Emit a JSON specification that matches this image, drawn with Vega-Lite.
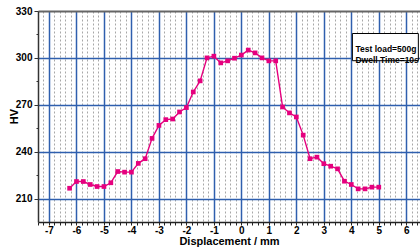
{
  "$schema": "https://vega.github.io/schema/vega-lite/v6.json",
  "autosize": "none",
  "width": 382,
  "height": 211,
  "padding": {"left": 38, "top": 11, "right": 0, "bottom": 25},
  "background": "white",
  "config": {
    "view": {"stroke": null},
    "font": "Liberation Sans",
    "axis": {"labelFont": "Liberation Sans", "titleFont": "Liberation Sans", "labelFontWeight": "bold", "titleFontWeight": "bold", "labelColor": "black", "titleColor": "black", "labelFontSize": 10, "titleFontSize": 11}
  },
  "resolve": {"axis": {"x": "independent", "y": "independent"}},
  "layer": [
    {
      "data": {"values": [
        {"x": -6.25, "hv": 216.6}, {"x": -6.0, "hv": 220.9}, {"x": -5.75, "hv": 220.9}, {"x": -5.5, "hv": 219.0},
        {"x": -5.25, "hv": 217.7}, {"x": -5.0, "hv": 217.7}, {"x": -4.75, "hv": 220.1}, {"x": -4.5, "hv": 227.3},
        {"x": -4.25, "hv": 226.9}, {"x": -4.0, "hv": 226.9}, {"x": -3.75, "hv": 232.5}, {"x": -3.5, "hv": 235.5},
        {"x": -3.25, "hv": 248.5}, {"x": -3.0, "hv": 256.8}, {"x": -2.75, "hv": 260.5}, {"x": -2.5, "hv": 260.9},
        {"x": -2.25, "hv": 265.4}, {"x": -2.0, "hv": 268.2}, {"x": -1.75, "hv": 278.2}, {"x": -1.5, "hv": 285.3},
        {"x": -1.25, "hv": 300.0}, {"x": -1.0, "hv": 301.1}, {"x": -0.75, "hv": 296.8}, {"x": -0.5, "hv": 298.1},
        {"x": -0.25, "hv": 299.8}, {"x": 0, "hv": 301.8}, {"x": 0.25, "hv": 305.0}, {"x": 0.5, "hv": 303.2},
        {"x": 0.75, "hv": 300.0}, {"x": 1.0, "hv": 298.1}, {"x": 1.25, "hv": 298.1}, {"x": 1.5, "hv": 268.6},
        {"x": 1.75, "hv": 264.8}, {"x": 2.0, "hv": 262.2}, {"x": 2.25, "hv": 250.6}, {"x": 2.5, "hv": 235.5},
        {"x": 2.75, "hv": 236.5}, {"x": 3.0, "hv": 232.3}, {"x": 3.25, "hv": 230.7}, {"x": 3.5, "hv": 229.0},
        {"x": 3.75, "hv": 221.1}, {"x": 4.0, "hv": 219.0}, {"x": 4.25, "hv": 216.2}, {"x": 4.5, "hv": 216.2},
        {"x": 4.75, "hv": 217.3}, {"x": 5.0, "hv": 217.3}
      ]},
      "mark": {"type": "line", "color": "#e5007e", "strokeWidth": 1.4,
        "point": {"shape": "square", "size": 22, "filled": true, "color": "#e5007e", "opacity": 1}},
      "encoding": {
        "x": {"field": "x", "type": "quantitative",
          "scale": {"domain": [-7.4, 6.5], "nice": false, "zero": false},
          "axis": {
            "orient": "bottom",
            "title": "Displacement / mm",
            "titleY": 19.5,
            "titleBaseline": "middle",
            "values": [-7.4,-7.2,-7,-6.8,-6.6,-6.4,-6.2,-6,-5.8,-5.6,-5.4,-5.2,-5,-4.8,-4.6,-4.4,-4.2,-4,-3.8,-3.6,-3.4,-3.2,-3,-2.8,-2.6,-2.4,-2.2,-2,-1.8,-1.6,-1.4,-1.2,-1,-0.8,-0.6,-0.4,-0.2,0,0.2,0.4,0.6,0.8,1,1.2,1.4,1.6,1.8,2,2.2,2.4,2.6,2.8,3,3.2,3.4,3.6,3.8,4,4.2,4.4,4.6,4.8,5,5.2,5.4,5.6,5.8,6,6.2,6.4],
            "labelExpr": "abs(datum.value - round(datum.value)) < 0.01 ? '' + round(datum.value) : ''",
            "labelOverlap": false,
            "labelFlush": false,
            "labelPadding": 0,
            "grid": true,
            "gridColor": {"condition": {"test": "abs(datum.value - round(datum.value)) < 0.01", "value": "#2f5fae"}, "value": "#a8a8a8"},
            "gridDash": {"condition": {"test": "abs(datum.value - round(datum.value)) < 0.01", "value": []}, "value": [2, 2]},
            "gridWidth": {"condition": {"test": "abs(datum.value - round(datum.value)) < 0.01", "value": 1.5}, "value": 1},
            "gridOpacity": 1,
            "domainColor": "#222",
            "domainWidth": 1.5,
            "tickColor": "#222",
            "tickSize": 3,
            "tickWidth": 1
          }
        },
        "y": {"field": "hv", "type": "quantitative",
          "scale": {"domain": [195, 330], "nice": false, "zero": false},
          "axis": {
            "orient": "left",
            "title": "HV",
            "titleX": -24,
            "titleY": 105,
            "titleAlign": "center",
            "titleBaseline": "middle",
            "titleAngle": -90,
            "values": [210, 225, 240, 255, 270, 285, 300, 315, 330],
            "labelExpr": "datum.value % 30 === 0 ? '' + datum.value : ''",
            "labelPadding": 2,
            "grid": true,
            "gridColor": {"condition": {"test": "datum.value === 330", "value": "#666666"}, "value": "#2f5fae"},
            "gridWidth": {"condition": {"test": "datum.value === 330", "value": 2}, "value": 1.3},
            "gridOpacity": {"condition": {"test": "datum.value % 30 === 0", "value": 1}, "value": 0},
            "domainColor": "#333",
            "domainWidth": 1.5,
            "tickColor": "#333",
            "tickSize": {"condition": {"test": "datum.value % 30 === 0", "value": 4}, "value": 2},
            "labelOverlap": false,
            "labelFlush": false
          }
        }
      }
    },
    {
      "data": {"values": [{}]},
      "mark": {"type": "rect", "fill": "white", "stroke": "black", "strokeWidth": 1},
      "encoding": {
        "x": {"datum": 4.04, "type": "quantitative", "axis": null},
        "x2": {"datum": 6.44},
        "y": {"datum": 315.6, "type": "quantitative", "axis": null},
        "y2": {"datum": 298.2}
      }
    },
    {
      "data": {"values": [{}]},
      "mark": {"type": "text", "align": "left", "baseline": "middle", "fontWeight": "bold", "fontSize": 8.5, "font": "Liberation Sans", "color": "black", "lineHeight": 11},
      "encoding": {
        "x": {"datum": 4.15, "type": "quantitative", "axis": null},
        "y": {"datum": 305.9, "type": "quantitative", "axis": null},
        "text": {"value": ["Test load=500g", "Dwell Time=10s"]}
      }
    }
  ]
}
